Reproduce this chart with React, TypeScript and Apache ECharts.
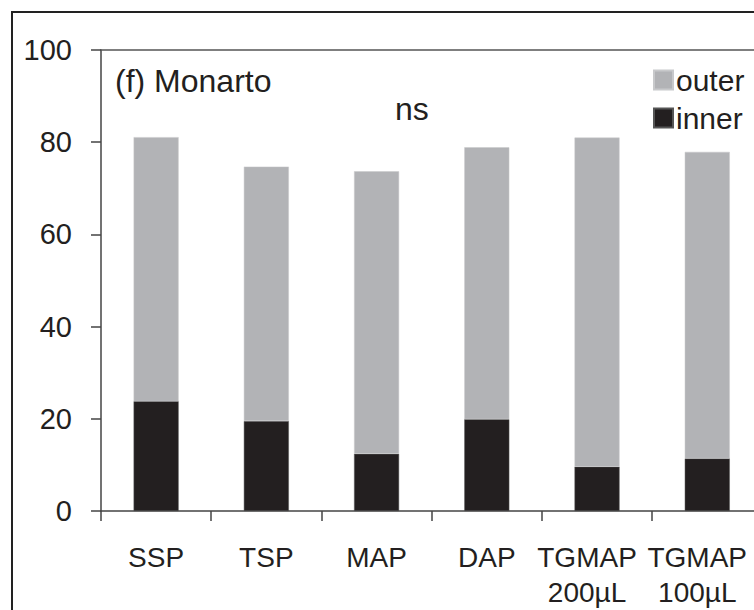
import React, { useEffect, useRef } from "react";
import * as echarts from "echarts";

const categories = ["SSP", "TSP", "MAP", "DAP", "TGMAP\n200µL", "TGMAP\n100µL"];
const innerValues = [23.8, 19.5, 12.4, 19.9, 9.6, 11.4];
const totalValues = [81.1, 74.7, 73.7, 78.9, 81.0, 77.9];
const outerValues = totalValues.map((t, i) => +(t - innerValues[i]).toFixed(1));
const yTicks = { min: 0, max: 100, interval: 20 };

const FONT = '"Liberation Sans", Arial, sans-serif';
const INK = "#231f20";
const GREY = "#b2b3b6";

export default function App() {
  const ref = useRef<HTMLDivElement>(null);
  useEffect(() => {
    const chart = echarts.init(ref.current!, undefined, { renderer: "svg" });
    const xData = categories.map((c) =>
      c.includes("\n") ? { value: c, textStyle: { padding: [0, 20, 0, 0] } } : c
    );
    chart.setOption({
      animation: false,
      backgroundColor: "#ffffff",
      textStyle: { fontFamily: FONT, color: INK },
      title: [
        {
          text: "(f) Monarto",
          left: 115,
          top: 65,
          padding: 0,
          textStyle: { fontFamily: FONT, fontSize: 32, fontWeight: "normal", color: INK },
        },
        {
          text: "ns",
          left: 395,
          top: 93,
          padding: 0,
          textStyle: { fontFamily: FONT, fontSize: 32, fontWeight: "normal", color: INK },
        },
      ],
      legend: {
        orient: "vertical",
        left: 653,
        top: 64,
        padding: 0,
        itemWidth: 19,
        itemHeight: 19,
        itemGap: 6,
        icon: "rect",
        data: ["outer", "inner"],
        textStyle: { fontFamily: FONT, fontSize: 30, lineHeight: 32, color: INK, padding: [0, 0, 0, -2] },
      },
      graphic: [
        {
          type: "rect",
          shape: { x: 12, y: 12, width: 900, height: 800 },
          style: { fill: "none", stroke: "#222", lineWidth: 2 },
          silent: true,
        },
      ],
      grid: { left: 101, top: 50, right: 7, bottom: 97, containLabel: false },
      xAxis: [
        {
          type: "category",
          data: xData,
          axisLine: { show: true, lineStyle: { color: "#444", width: 1.5 } },
          axisTick: { show: true, alignWithLabel: false, interval: 0, length: 10, lineStyle: { color: "#444", width: 1.5 } },
          axisLabel: {
            interval: 0,
            fontFamily: FONT,
            fontSize: 28,
            color: INK,
            margin: 29,
            lineHeight: 35,
          },
        },
        {
          type: "category",
          position: "top",
          data: categories,
          axisLine: { show: true, lineStyle: { color: "#555", width: 1.5 } },
          axisTick: { show: false },
          axisLabel: { show: false },
        },
      ],
      yAxis: {
        type: "value",
        min: yTicks.min,
        max: yTicks.max,
        interval: yTicks.interval,
        axisLine: { show: true, lineStyle: { color: "#444", width: 1.5 } },
        axisTick: { show: true, length: 10, lineStyle: { color: "#444", width: 1.5 } },
        splitLine: { show: false },
        axisLabel: { fontFamily: FONT, fontSize: 29, color: INK, margin: 29 },
      },
      series: [
        {
          name: "inner",
          type: "bar",
          stack: "total",
          barWidth: 45,
          data: innerValues,
          itemStyle: { color: INK, borderColor: "#555", borderWidth: 0.5 },
        },
        {
          name: "outer",
          type: "bar",
          stack: "total",
          barWidth: 45,
          data: outerValues,
          itemStyle: { color: GREY, borderColor: "#c8c9cb", borderWidth: 0.5 },
        },
      ],
    });
    return () => chart.dispose();
  }, []);
  return (
    <div
      ref={ref}
      style={{ position: "fixed", left: 0, top: 0, width: 770, height: 610, background: "#fff" }}
    />
  );
}
